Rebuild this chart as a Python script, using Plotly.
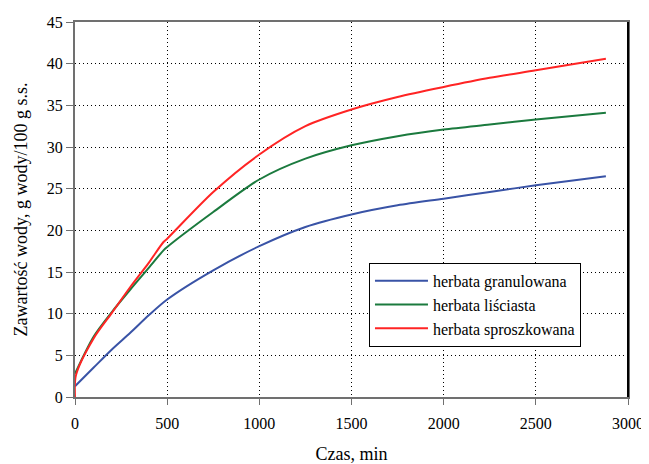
import plotly.graph_objects as go

# czas, min
t_gran = [0, 100, 200, 300, 400, 500, 750, 1000, 1250, 1500, 1750, 2000, 2250, 2500, 2880]
v_gran = [1.3, 3.5, 5.7, 7.7, 9.8, 11.7, 15.2, 18.1, 20.4, 21.9, 23.0, 23.8, 24.6, 25.4, 26.5]

t_lisc = [0, 100, 200, 300, 400, 480, 500, 750, 1000, 1250, 1500, 1750, 2000, 2250, 2500, 2880]
v_lisc = [2.8, 7.2, 10.2, 12.9, 15.5, 17.6, 18.0, 22.2, 26.1, 28.6, 30.2, 31.3, 32.1, 32.7, 33.3, 34.1]

t_spr = [0, 5, 100, 200, 300, 400, 480, 500, 750, 1000, 1250, 1500, 1750, 2000, 2250, 2500, 2880]
v_spr = [0, 2.6, 7.0, 10.1, 13.2, 16.1, 18.6, 19.0, 24.6, 29.1, 32.5, 34.5, 36.0, 37.2, 38.3, 39.2, 40.6]

names = ["herbata granulowana", "herbata liściasta", "herbata sproszkowana"]
colors = ["#3953A6", "#1B7A3E", "#FF2424"]

x_ticks = [0, 500, 1000, 1500, 2000, 2500, 3000]
y_ticks = [0, 5, 10, 15, 20, 25, 30, 35, 40, 45]

FONT = "Liberation Serif"

fig = go.Figure()
for t, v, n, c in zip([t_gran, t_lisc, t_spr], [v_gran, v_lisc, v_spr], names, colors):
    fig.add_trace(go.Scatter(x=t, y=v, mode="lines", name=n,
                             line=dict(color=c, width=2, shape="spline", smoothing=0.8)))

# the page body adds an 8px offset, so the figure is 8px smaller on each axis
fig.update_layout(
    width=641, height=456,
    margin=dict(l=67, r=21, t=14, b=67, autoexpand=False),
    paper_bgcolor="white", plot_bgcolor="white",
    font=dict(family=FONT, size=16, color="black"),
    showlegend=True,
    legend=dict(x=0.5316, y=0.358, xanchor="left", yanchor="top",
                bgcolor="white", bordercolor="black", borderwidth=1,
                font=dict(family=FONT, size=16, color="black"),
                itemwidth=53, tracegroupgap=0),
    xaxis=dict(range=[0, 3000], tickvals=x_ticks, ticks="outside", ticklen=6,
               tickcolor="#707070", showline=True, linecolor="#707070", linewidth=2,
               mirror=True, showgrid=True, gridcolor="black", griddash="1px,3px",
               gridwidth=1, zeroline=False, automargin=False, ticklabelstandoff=5,
               tickfont=dict(family=FONT, size=16),
               title=dict(text="Czas, min", standoff=26,
                          font=dict(family=FONT, size=18))),
    yaxis=dict(range=[0, 45], tickvals=y_ticks, ticks="outside", ticklen=7,
               tickcolor="#707070", showline=True, linecolor="#707070", linewidth=2,
               mirror=True, showgrid=True, gridcolor="black", griddash="1px,3px",
               gridwidth=1, zeroline=False, automargin=False,
               tickfont=dict(family=FONT, size=16),
               title=dict(text="Zawartość wody, g wody/100 g s.s.", standoff=14,
                          font=dict(family=FONT, size=18))),
    shapes=[dict(type="line", xref="paper", yref="paper", x0=1, x1=1, y0=0, y1=1,
                 line=dict(color="black", width=2))],
)

fig.write_html("out.html")
